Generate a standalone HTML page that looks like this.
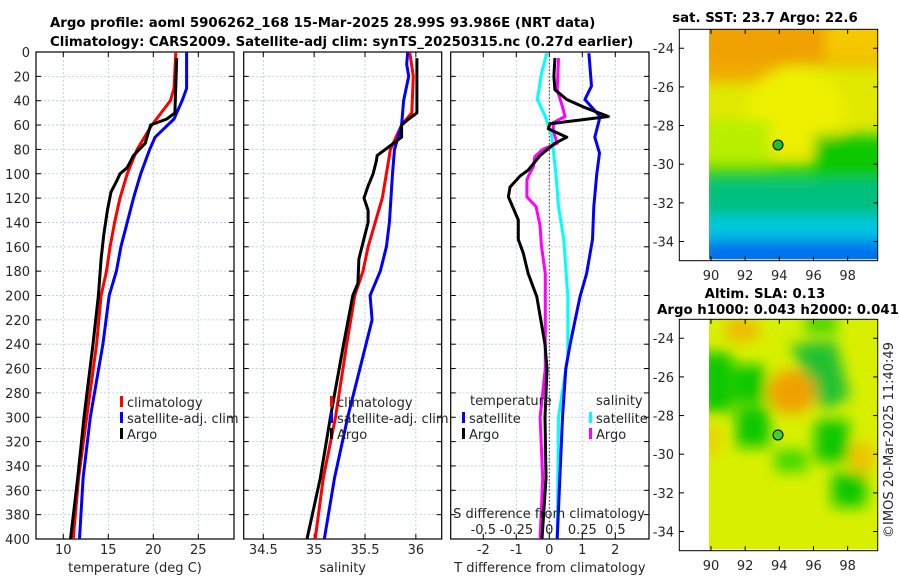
<!DOCTYPE html>
<html><head><meta charset="utf-8"><style>
body{margin:0;background:#fff;width:900px;height:580px;overflow:hidden;font-family:"Liberation Sans","DejaVu Sans",sans-serif}
svg text{font-family:"DejaVu Sans","Liberation Sans",sans-serif;fill:#262626}
.t{font-weight:bold;font-size:13.3px;fill:#000}
</style></head><body>
<svg id="c" width="900" height="580">
<defs>
<filter id="b1" x="-50%" y="-50%" width="200%" height="200%"><feGaussianBlur stdDeviation="7"/></filter>
<filter id="b2" x="-50%" y="-50%" width="200%" height="200%"><feGaussianBlur stdDeviation="7"/></filter>
<clipPath id="m1c"><rect x="709" y="29.3" width="168.7" height="230"/></clipPath>
<clipPath id="m2c"><rect x="709" y="319.3" width="168.7" height="230"/></clipPath>
<clipPath id="p1c"><rect x="36" y="52" width="198" height="487"/></clipPath>
<clipPath id="p2c"><rect x="243.7" y="52" width="198" height="487"/></clipPath>
<clipPath id="p3c"><rect x="450.7" y="52" width="198.3" height="487"/></clipPath>
</defs>
<text class="t" x="50" y="27">Argo profile: aoml 5906262_168 15-Mar-2025 28.99S 93.986E (NRT data)</text>
<text class="t" x="50" y="46">Climatology: CARS2009. Satellite-adj clim: synTS_20250315.nc (0.27d earlier)</text>
<g>
<g clip-path="url(#m1c)">
<rect x="709" y="29" width="170" height="232" fill="#e0e800"/>
<g filter="url(#b1)">
<rect x="700" y="15" width="190" height="50" fill="#f0a000"/>
<rect x="700" y="60" width="80" height="22" fill="#f0aa00"/>
<rect x="825" y="15" width="65" height="45" fill="#f5c800"/>
<ellipse cx="795" cy="110" rx="50" ry="42" fill="#eef000"/>
<rect x="700" y="120" width="70" height="50" fill="#b8f000"/>
<rect x="700" y="165" width="190" height="20" fill="#20d000"/>
<rect x="815" y="135" width="75" height="45" fill="#10c800"/>
<rect x="700" y="180" width="190" height="40" fill="#00c080"/>
<rect x="700" y="216" width="190" height="25" fill="#00c8e0"/>
<rect x="700" y="240" width="190" height="30" fill="#0070f0"/>
</g></g>
<rect x="679.3" y="29.3" width="198.4" height="231.4" fill="none" stroke="#000"/>
<circle cx="778" cy="145" r="5" fill="#20c020" stroke="#000"/>
<text class="t" x="765" y="22" text-anchor="middle">sat. SST: 23.7 Argo: 22.6</text>
</g>
<g>
<g clip-path="url(#m2c)">
<rect x="709" y="319" width="170" height="232" fill="#d8f000"/>
<g filter="url(#b2)">
<rect x="700" y="352" width="32" height="60" fill="#10c800"/>
<rect x="733" y="365" width="32" height="38" fill="#10c800"/>
<rect x="736" y="407" width="34" height="40" fill="#10c800"/>
<polygon points="790,345 835,340 850,398 822,410" fill="#20c030"/>
<rect x="815" y="420" width="34" height="42" fill="#10c800"/>
<rect x="832" y="473" width="34" height="34" fill="#10c800"/>
<rect x="775" y="450" width="32" height="22" fill="#40d800"/>
<rect x="805" y="316" width="32" height="16" fill="#30d000"/>
<ellipse cx="792" cy="392" rx="24" ry="22" fill="#f0a000"/>
<ellipse cx="742" cy="330" rx="18" ry="12" fill="#f0b800"/>
<ellipse cx="862" cy="458" rx="12" ry="16" fill="#f0c000"/>
<ellipse cx="712" cy="440" rx="7" ry="16" fill="#f0c800"/>
</g></g>
<rect x="679.3" y="319.3" width="198.4" height="231.4" fill="none" stroke="#000"/>
<circle cx="778" cy="435" r="5" fill="#40d030" stroke="#000"/>
<text class="t" x="765" y="298" text-anchor="middle">Altim. SLA: 0.13</text>
<text class="t" x="778" y="314" text-anchor="middle">Argo h1000: 0.043 h2000: 0.041</text>
<text x="893" y="440" font-size="13" text-anchor="middle" transform="rotate(-90 893 440)">©IMOS 20-Mar-2025 11:40:49</text>
</g>
</svg>
<script>
const depthTicks=[0,20,40,60,80,100,120,140,160,180,200,220,240,260,280,300,320,340,360,380,400];
const tTicks=[10,15,20,25];
const sTicks=[34.5,35,35.5,36];
const dtTicks=[-2,-1,0,1,2];
const dsTicks=[-0.5,-0.25,0,0.25,0.5];
const dsLabels=["-0.5","-0.25","0","0.25","0.5"];
const latTicks=[-24,-26,-28,-30,-32,-34];
const lonTicks=[90,92,94,96,98];
// temperature
const climTD=[0,30,40,60,80,100,120,140,160,180,200,240,300,350,400];
const climT=[22.5,22.3,21.9,19.85,18.2,17.1,16.3,15.7,15.2,14.8,14.2,13.7,12.6,11.7,11.1];
const satTD=[0,30,40,55,70,80,100,120,140,160,180,200,240,300,350,400];
const satT=[23.7,23.7,23.2,22.3,20.2,19.6,18.6,17.8,17.1,16.4,15.9,15.1,14.4,13,12.2,11.8];
const argoTD=[5,50,55,60,65,75,85,95,100,105,115,130,150,170,200,240,300,350,400];
const argoT=[22.6,22.4,21.5,19.7,19.5,19.1,17.8,17.1,16.3,16.0,15.3,14.9,14.5,14.2,13.9,13.3,12.3,11.6,10.8];
// salinity
const climSD=[0,20,50,60,80,100,120,140,160,180,200,240,300,350,400];
const climS=[35.94,35.975,35.96,35.86,35.75,35.71,35.67,35.60,35.53,35.48,35.40,35.32,35.21,35.09,35.01];
const satSD=[0,10,20,40,60,80,100,140,160,180,200,220,260,300,350,400];
const satS=[35.92,35.91,35.93,35.88,35.86,35.79,35.77,35.74,35.71,35.65,35.55,35.57,35.45,35.33,35.2,35.1];
const argoSD=[5,50,55,60,70,75,85,90,100,110,120,130,140,150,170,190,200,240,300,350,400];
const argoS=[36.01,36.01,35.93,35.86,35.86,35.78,35.62,35.61,35.58,35.53,35.49,35.53,35.53,35.5,35.44,35.43,35.38,35.29,35.16,35.06,34.93];
// differences
const dSatTD=[1,28,39,53,70,83,100,127,154,182,201,240,260,300,400];
const dSatT=[1.2,1.28,1.08,1.54,1.38,1.52,1.44,1.35,1.31,1.13,0.93,0.63,0.5,0.4,0.24];
const dArgoTD=[5,20,31,39,45,53,59,63,70,75,85,97,102,111,119,138,154,165,182,201,240,260,300,350,400];
const dArgoT=[0.17,0.14,0.17,0.53,1.02,1.79,0.02,-0.03,0.53,0.17,-0.28,-0.64,-0.89,-1.19,-1.24,-0.94,-0.94,-0.79,-0.64,-0.38,-0.13,-0.07,-0.13,-0.1,-0.22];
const dSatSD=[1,18,39,53,70,100,127,154,201,250,300,400];
const dSatS=[-0.02,-0.06,-0.09,-0.03,0.02,0.05,0.07,0.11,0.14,0.14,0.07,0.06];
const dArgoSD=[5,31,45,53,58,65,75,80,86,94,100,105,119,127,143,159,182,201,260,300,350,400];
const dArgoS=[0.07,0.06,0.1,0.12,0.03,0.03,0.06,-0.05,-0.11,-0.12,-0.15,-0.17,-0.17,-0.1,-0.07,-0.06,-0.03,-0.03,-0.03,-0.07,-0.05,-0.07];

const NS='http://www.w3.org/2000/svg';
const svg=document.getElementById('c');
function mk(tag,at,parent){const e=document.createElementNS(NS,tag);for(const k in at)e.setAttribute(k,at[k]);(parent||svg).appendChild(e);return e;}
const Y0=52,PXM=1.2175;
const yD=d=>Y0+d*PXM;
const P=[
 {x0:36,x1:234,f:v=>63.3+(v-10)*9,ticks:tTicks,lab:tTicks.map(String),xl:'temperature (deg C)',nm:'temperature-panel'},
 {x0:243.7,x1:441.7,f:v=>263.3+(v-34.5)*101.7,ticks:sTicks,lab:sTicks.map(String),xl:'salinity',nm:'salinity-panel'},
 {x0:450.7,x1:649,f:v=>549.3+v*33,ticks:dtTicks,lab:dtTicks.map(String),xl:'T difference from climatology',nm:'difference-panel'}];
const fS=v=>549.3+v*132;
P.forEach((p,i)=>{
 const g=mk('g',{});
 
 
 depthTicks.forEach(d=>{const y=yD(d);
  if(d>0&&d<400)mk('line',{x1:p.x0,x2:p.x1,y1:y,y2:y,stroke:'#b8c4e0','stroke-width':0.8,'stroke-dasharray':'2,2'},g);
  mk('line',{x1:p.x0,x2:p.x0+5,y1:y,y2:y,stroke:'#000'},g);
  mk('line',{x1:p.x1-5,x2:p.x1,y1:y,y2:y,stroke:'#000'},g);
  if(i==0){const t=mk('text',{x:30,y:y+5,'font-size':13,'text-anchor':'end'},g);t.textContent=d;}
 });
 p.ticks.forEach((v,k)=>{const x=p.f(v);
  mk('line',{x1:x,x2:x,y1:52,y2:539,stroke:'#b8c4e0','stroke-width':0.8,'stroke-dasharray':'2,2'},g);
  mk('line',{x1:x,x2:x,y1:534,y2:539,stroke:'#000'},g);
  mk('line',{x1:x,x2:x,y1:52,y2:57,stroke:'#000'},g);
  const t=mk('text',{x:x,y:554,'font-size':13,'text-anchor':'middle'},g);t.textContent=p.lab[k];
 });
 const xl=mk('text',{x:(p.x0+p.x1)/2,y:572,'font-size':13,'text-anchor':'middle'},g);xl.textContent=p.xl;
 mk('rect',{x:p.x0,y:52,width:p.x1-p.x0,height:487,fill:'none',stroke:'#000','stroke-width':1.2},g);
});
mk('line',{x1:549.3,x2:549.3,y1:52,y2:539,stroke:'#333','stroke-dasharray':'1.5,2'});
function line(D,V,f,col,nm,clip){
 const pts=D.map((d,k)=>f(V[k]).toFixed(1)+','+yD(d).toFixed(1)).join(' ');
 const e=mk('polyline',{points:pts,fill:'none',stroke:col,'stroke-width':3,'stroke-linejoin':'round','clip-path':'url(#'+clip+')'});
 
 
}
line(climTD,climT,P[0].f,'#f00','temp-climatology-line','p1c');
line(satTD,satT,P[0].f,'#00f','temp-satellite-line','p1c');
line(argoTD,argoT,P[0].f,'#000','temp-argo-line','p1c');
line(climSD,climS,P[1].f,'#f00','sal-climatology-line','p2c');
line(satSD,satS,P[1].f,'#00f','sal-satellite-line','p2c');
line(argoSD,argoS,P[1].f,'#000','sal-argo-line','p2c');
line(dSatSD,dSatS,fS,'#0ff','dsal-satellite-line','p3c');
line(dArgoSD,dArgoS,fS,'#f0f','dsal-argo-line','p3c');
line(dSatTD,dSatT,P[2].f,'#00f','dtemp-satellite-line','p3c');
line(dArgoTD,dArgoT,P[2].f,'#000','dtemp-argo-line','p3c');
const st=mk('text',{x:549,y:518,'font-size':13,'text-anchor':'middle'});st.textContent='S difference from climatology';


dsTicks.forEach((v,k)=>{const t=mk('text',{x:fS(v),y:534,'font-size':13,'text-anchor':'middle'});t.textContent=dsLabels[k];});
function leg(x,y,col,txt,nm){
 mk('rect',{x:x,y:y-6,width:3,height:11,fill:col});
 const t=mk('text',{x:x+7,y:y+5,'font-size':13});t.textContent=txt;
 
 
}
leg(120,402,'#f00','climatology','legend-climatology');
leg(120,418,'#00f','satellite-adj. clim','legend-satellite-adj');
leg(120,434,'#000','Argo','legend-argo');
leg(330,402,'#f00','climatology','legend-sal-climatology');
leg(330,418,'#00f','satellite-adj. clim','legend-sal-satellite-adj');
leg(330,434,'#000','Argo','legend-sal-argo');
const lt=mk('text',{x:470,y:405,'font-size':13});lt.textContent='temperature';
const ls=mk('text',{x:596,y:405,'font-size':13});ls.textContent='salinity';
leg(462,418,'#00f','satellite','legend-t-satellite');
leg(462,434,'#000','Argo','legend-t-argo');
leg(589,418,'#0ff','satellite','legend-s-satellite');
leg(589,434,'#f0f','Argo','legend-s-argo');
[0,290].forEach((off,mi)=>{
 latTicks.forEach(v=>{const y=off+29.3+(-23.02-v)*19.33;
  mk('line',{x1:679.3,x2:684,y1:y,y2:y,stroke:'#000'});mk('line',{x1:873,x2:877.7,y1:y,y2:y,stroke:'#000'});
  const t=mk('text',{x:674,y:y+5,'font-size':13,'text-anchor':'end'});t.textContent=v;});
 lonTicks.forEach(v=>{const x=711+(v-90)*17.08;
  mk('line',{x1:x,x2:x,y1:off+256,y2:off+260.7,stroke:'#000'});mk('line',{x1:x,x2:x,y1:off+29.3,y2:off+34,stroke:'#000'});
  const t=mk('text',{x:x,y:off+280,'font-size':13,'text-anchor':'middle'});t.textContent=v;});
});
</script>
</body></html>
